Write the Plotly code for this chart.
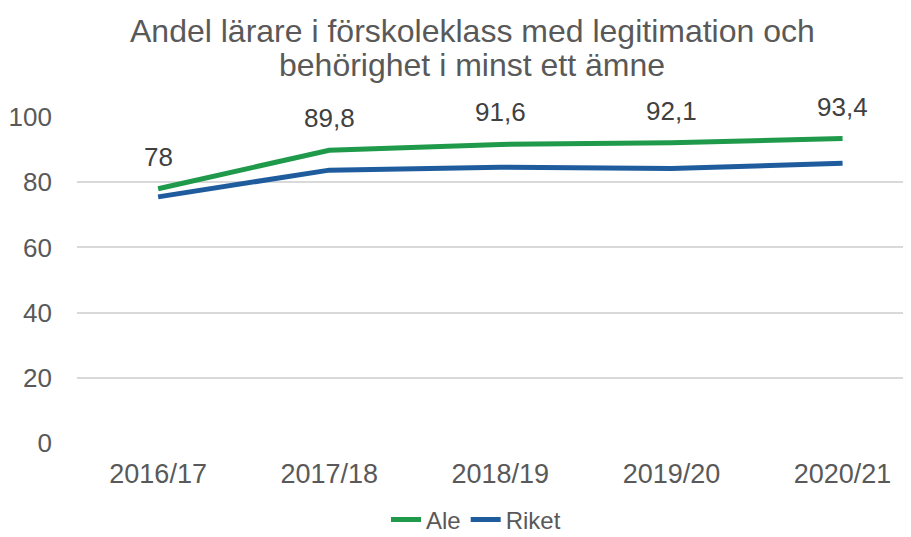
import plotly.graph_objects as go

categories = ["2016/17", "2017/18", "2018/19", "2019/20", "2020/21"]
ale = [78, 89.8, 91.6, 92.1, 93.4]
riket = [75.5, 83.7, 84.6, 84.2, 85.8]
ale_labels = ["78", "89,8", "91,6", "92,1", "93,4"]
y_ticks = [0, 20, 40, 60, 80, 100]
title_lines = ["Andel lärare i förskoleklass med legitimation och",
               "behörighet i minst ett ämne"]

GREEN = "#1E9A4A"
BLUE = "#1F5C9E"
GRAY = "#595959"
FONT = "Liberation Sans, Arial, sans-serif"

W, H = 903, 529  # page body has an 8px margin
L, R, T, B = 69, 0, 108.5, 94

fig = go.Figure()
fig.add_trace(go.Scatter(x=categories, y=ale, name="Ale", mode="lines",
                         line=dict(color=GREEN, width=5)))
fig.add_trace(go.Scatter(x=categories, y=riket, name="Riket", mode="lines",
                         line=dict(color=BLUE, width=5)))

for c, v, t in zip(categories, ale, ale_labels):
    fig.add_annotation(x=c, y=v, text=t, showarrow=False, yshift=32,
                       font=dict(size=26, color="#404040", family=FONT))

# title as two lines with tight spacing
for i, (line, ypx) in enumerate(zip(title_lines, [22, 56])):
    fig.add_annotation(xref="paper", yref="paper",
                       x=(464 - L) / (W - L - R),
                       y=(H - B - ypx) / (H - T - B),
                       xanchor="center", yanchor="middle", showarrow=False,
                       text=line, font=dict(size=32, color=GRAY, family=FONT))

fig.update_layout(
    width=W, height=H,
    margin=dict(l=L, r=R, t=T, b=B, autoexpand=False),
    paper_bgcolor="white", plot_bgcolor="white",
    font=dict(family=FONT, color=GRAY),
    showlegend=True,
    legend=dict(orientation="h", x=(468 - L) / (W - L - R), xanchor="center",
                y=(H - B - 512) / (H - T - B), yanchor="middle",
                font=dict(size=24, color=GRAY), tracegroupgap=0,
                itemwidth=30),
    xaxis=dict(type="category", range=[-0.474, 4.40], showgrid=False,
               showline=False, ticks="", ticklabelstandoff=12,
               tickfont=dict(size=27, color=GRAY)),
    yaxis=dict(range=[0, 100], tickvals=y_ticks, showgrid=True,
               gridcolor="#D9D9D9", gridwidth=2, zeroline=False,
               ticks="", ticklabelstandoff=24,
               tickfont=dict(size=26, color=GRAY)),
)

fig.write_html("out.html")
